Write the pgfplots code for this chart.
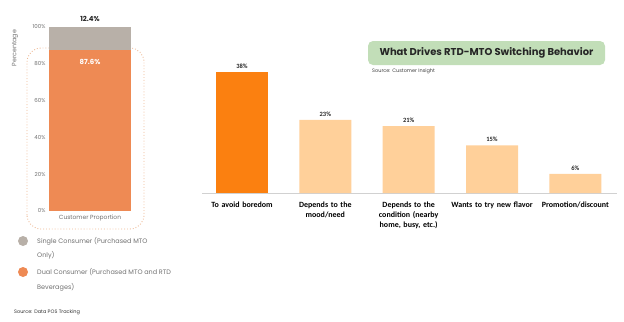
\documentclass[border=0pt]{standalone}
\usepackage{pgfplots}
\pgfplotsset{compat=1.18}
\usepackage{fontspec}
\setmainfont{Poppins}
\newfontfamily\calfont{Carlito}
\definecolor{greyL}{HTML}{B8B0A8}
\definecolor{orangeL}{HTML}{EE8A54}
\definecolor{barA}{HTML}{FB8010}
\definecolor{barB}{HTML}{FFD09A}
\definecolor{boxG}{HTML}{C2DEB8}
\definecolor{dotC}{HTML}{EDB894}
\definecolor{txtG}{HTML}{707070}
\begin{document}
\begin{tikzpicture}[x=1bp,y=1bp]
\path[use as bounding box] (0,0) rectangle (624,321);
% dotted frame
\draw[dotC, dotted, line width=0.9bp, rounded corners=14bp] (27,92) rectangle (144,273);
% left stacked bar
\begin{axis}[at={(49bp,110bp)}, anchor=south west, scale only axis,
  width=82bp, height=184bp, ybar stacked, bar width=82bp,
  xmin=-0.5, xmax=0.5, ymin=0, ymax=100, enlargelimits=false,
  xtick=\empty, ytick={0,20,...,100},
  yticklabel={\pgfmathprintnumber{\tick}\%},
  /pgf/number format/assume math mode=true,
  axis line style={draw=none}, ytick style={draw=none},
  yticklabel style={font=\fontsize{5.5}{6}\selectfont, text=txtG},
  clip=false]
\addplot[fill=orangeL, draw=none] coordinates {(0,87.6)};
\addplot[fill=greyL, draw=none] coordinates {(0,12.4)};
\end{axis}
\node[font=\bfseries\fontsize{7}{8}\selectfont, text=black!85] at (90,302) {12.4\%};
\node[font=\bfseries\fontsize{7}{8}\selectfont, text=white] at (90,259) {87.6\%};
\node[font=\fontsize{6}{7}\selectfont, text=txtG] at (90,103) {Customer Proportion};
\node[font=\fontsize{6.3}{7}\selectfont, text=txtG, rotate=90] at (15,273) {Percentage};
% legend
\fill[greyL] (23,80) circle (5bp);
\node[anchor=west, font=\fontsize{6.5}{7}\selectfont, text=txtG, inner sep=0] at (37,80) {Single Consumer (Purchased MTO};
\node[anchor=west, font=\fontsize{6.5}{7}\selectfont, text=txtG, inner sep=0] at (37,66) {Only)};
\fill[orangeL] (23,49) circle (5bp);
\node[anchor=west, font=\fontsize{6.5}{7}\selectfont, text=txtG, inner sep=0] at (37,49) {Dual Consumer (Purchased MTO and RTD};
\node[anchor=west, font=\fontsize{6.5}{7}\selectfont, text=txtG, inner sep=0] at (37,34) {Beverages)};
\node[anchor=west, font=\fontsize{5}{6}\selectfont, text=black!80, inner sep=0] at (14,9) {Source: Data POS Tracking};
% right chart
\begin{axis}[at={(202bp,128bp)}, anchor=south west, scale only axis,
  width=415bp, height=127.2bp, ybar, bar width=52bp,
  xmin=-0.48, xmax=4.5, ymin=0, ymax=40, enlargelimits=false,
  hide y axis, axis x line*=bottom, x axis line style={draw=black!18, line width=0.8bp},
  xtick={0,1,2,3,4}, xtick style={draw=none},
  xticklabels={To avoid boredom, Depends to the\\mood/need, Depends to the\\condition (nearby\\home{,} busy{,} etc.), Wants to try new flavor, Promotion/discount},
  xticklabel style={align=center, text width=90bp, font=\calfont\bfseries\fontsize{8}{10}\selectfont, yshift=-1bp},
  /pgf/number format/assume math mode=true,
  nodes near coords={\pgfmathprintnumber{\pgfplotspointmeta}\%},
  nodes near coords style={font=\calfont\bfseries\fontsize{6.5}{7}\selectfont, text=black!85},
  clip=false]
\addplot[fill=barA, draw=none, bar shift=0pt] coordinates {(0,38)};
\addplot[fill=barB, draw=none, bar shift=0pt] coordinates {(1,23) (2,21) (3,15) (4,6)};
\end{axis}
% title box
\fill[boxG, rounded corners=5bp] (368,256) rectangle (605,280);
\node[font=\bfseries\fontsize{10}{11}\selectfont, text=black!85] at (486.5,268) {What Drives RTD-MTO Switching Behavior};
\node[anchor=west, font=\fontsize{5}{6}\selectfont, text=black!75, inner sep=0] at (372,250) {Source: Customer Insight};
\end{tikzpicture}
\end{document}
